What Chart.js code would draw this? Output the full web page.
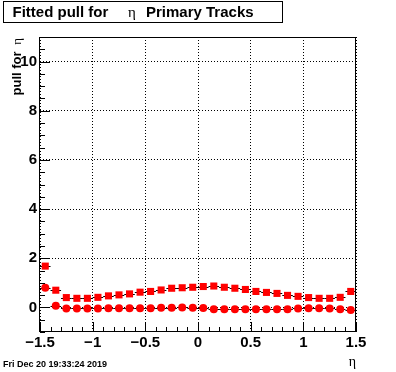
<!DOCTYPE html>
<html>
<head>
<meta charset="utf-8">
<script src="https://cdn.jsdelivr.net/npm/chart.js@4.4.1/dist/chart.umd.min.js"></script>
<style>
  html, body { margin: 0; padding: 0; background: #fff; }
  canvas { display: block; }
</style>
</head>
<body>
<canvas id="pull" width="396" height="372" style="width:396px;height:372px"></canvas>
<script>
// bin centres in eta (bin width 0.1)
const etaBins = [-1.45, -1.35, -1.25, -1.15, -1.05, -0.95, -0.85, -0.75, -0.65, -0.55,
                 -0.45, -0.35, -0.25, -0.15, -0.05, 0.05, 0.15, 0.25, 0.35, 0.45,
                 0.55, 0.65, 0.75, 0.85, 0.95, 1.05, 1.15, 1.25, 1.35, 1.45];
// fitted pull, square markers
const pullSquares = [1.68, 0.70, 0.40, 0.37, 0.37, 0.41, 0.47, 0.51, 0.55, 0.62,
                     0.65, 0.71, 0.78, 0.80, 0.82, 0.85, 0.87, 0.82, 0.78, 0.73,
                     0.65, 0.61, 0.57, 0.49, 0.45, 0.40, 0.37, 0.37, 0.41, 0.65];
// fitted pull, round markers
const pullCircles = [0.80, 0.07, -0.04, -0.04, -0.04, -0.04, -0.03, -0.03, -0.03, -0.03,
                     -0.03, -0.01, -0.01, 0.00, -0.01, -0.02, -0.07, -0.07, -0.07, -0.07,
                     -0.07, -0.07, -0.07, -0.07, -0.04, -0.03, -0.03, -0.04, -0.07, -0.11];
const xTicks = [-1.5, -1, -0.5, 0, 0.5, 1, 1.5];
const xTickLabels = ["\u22121.5", "\u22121", "\u22120.5", "0", "0.5", "1", "1.5"];
const yTicks = [0, 2, 4, 6, 8, 10];
const yTickLabels = ["0", "2", "4", "6", "8", "10"];
const binHalf = 0.05;

const toPoints = (ys) => etaBins.map((x, i) => ({ x: x, y: ys[i] }));
const sans = "'Liberation Sans', Arial, sans-serif";
const serif = "'Liberation Serif', 'DejaVu Serif', serif";

// ROOT style frame, inward ticks, error bars and texts
const rootLook = {
  id: "rootLook",
  beforeDraw(chart) {
    const c = chart.ctx;
    c.save();
    c.fillStyle = "#fff";
    c.fillRect(0, 0, chart.width, chart.height);
    c.restore();
  },
  beforeDatasetsDraw(chart) {
    const c = chart.ctx, xs = chart.scales.x, ys = chart.scales.y;
    c.save();
    c.strokeStyle = "#000";
    c.lineWidth = 1;
    chart.data.datasets.forEach((ds) => {
      ds.data.forEach((p) => {
        const y = Math.round(ys.getPixelForValue(p.y)) + 0.5;
        c.beginPath();
        c.moveTo(xs.getPixelForValue(p.x - binHalf), y);
        c.lineTo(xs.getPixelForValue(p.x + binHalf), y);
        c.stroke();
      });
    });
    c.restore();
  },
  afterDraw(chart) {
    const c = chart.ctx, a = chart.chartArea, xs = chart.scales.x, ys = chart.scales.y;
    c.save();
    c.strokeStyle = "#000";
    c.fillStyle = "#000";
    c.lineWidth = 1;
    c.strokeRect(Math.round(a.left) - 0.5, Math.round(a.top) + 0.5,
                 Math.round(a.right - a.left), Math.round(a.bottom - a.top) - 1);

    // x ticks: major 0.5, minor 0.1
    c.beginPath();
    for (let k = -15; k <= 15; k++) {
      const px = Math.round(xs.getPixelForValue(k / 10)) + 0.5;
      const len = k % 5 === 0 ? 10 : 5;
      c.moveTo(px, a.bottom);
      c.lineTo(px, a.bottom - len);
    }
    // y ticks: major 2, minor 0.5
    for (let k = -2; k <= 22; k++) {
      const py = Math.round(ys.getPixelForValue(k / 2)) + 0.5;
      const len = k % 4 === 0 ? 10 : 5;
      c.moveTo(a.left, py);
      c.lineTo(a.left + len, py);
    }
    c.stroke();

    // title box
    c.strokeRect(3.5, 1.5, 279, 21);
    c.textBaseline = "alphabetic";
    c.font = "bold 15px " + sans;
    c.fillText("Fitted pull for", 12.5, 17);
    c.font = "15px " + serif;
    c.fillText("\u03b7", 128, 17);
    c.font = "bold 15px " + sans;
    c.fillText("Primary Tracks", 146, 17);

    // y axis title, right aligned to top of axis
    c.save();
    c.translate(21, 38);
    c.rotate(-Math.PI / 2);
    c.font = "13px " + serif;
    const wEta = c.measureText("\u03b7").width;
    c.textAlign = "right";
    c.fillText("\u03b7", 0, 0);
    c.font = "bold 13px " + sans;
    c.fillText("pull for ", -wEta - 3, 0);
    c.restore();

    // x axis title
    c.font = "14px " + serif;
    c.textAlign = "right";
    c.fillText("\u03b7", 356, 366);

    // date stamp
    c.font = "bold 9px " + sans;
    c.textAlign = "left";
    c.fillText("Fri Dec 20 19:33:24 2019", 3, 367);
    c.restore();
  }
};

const tickFont = { family: sans, size: 15, weight: "bold" };

new Chart(document.getElementById("pull").getContext("2d"), {
  type: "scatter",
  data: {
    datasets: [
      {
        label: "squares",
        data: toPoints(pullSquares),
        pointStyle: "rect",
        pointRadius: 5,
        backgroundColor: "#ff0000",
        borderColor: "#ff0000",
        borderWidth: 0,
      },
      {
        label: "circles",
        data: toPoints(pullCircles),
        pointStyle: "circle",
        pointRadius: 4,
        backgroundColor: "#ff0000",
        borderColor: "#ff0000",
        borderWidth: 0,
      },
    ],
  },
  options: {
    responsive: false,
    animation: false,
    devicePixelRatio: 1,
    layout: { padding: { top: 37, right: 40, left: 0, bottom: 0 } },
    plugins: {
      legend: { display: false },
      title: { display: false },
      tooltip: { enabled: false },
    },
    scales: {
      x: {
        type: "linear",
        min: -1.5,
        max: 1.5,
        afterBuildTicks: (s) => { s.ticks = xTicks.map((v) => ({ value: v })); },
        afterFit: (s) => { s.height = 40; },
        grid: { color: "#000", drawTicks: false, lineWidth: 1 },
        border: { display: false, dash: [1, 2] },
        ticks: {
          padding: 2,
          color: "#000",
          font: tickFont,
          maxRotation: 0,
          autoSkip: false,
          callback: (v, i) => xTickLabels[i],
        },
      },
      y: {
        type: "linear",
        min: -1,
        max: 11,
        afterBuildTicks: (s) => { s.ticks = yTicks.map((v) => ({ value: v })); },
        afterFit: (s) => { s.width = 40; },
        grid: { color: "#000", drawTicks: false, lineWidth: 1 },
        border: { display: false, dash: [1, 2] },
        ticks: {
          padding: 3,
          color: "#000",
          font: tickFont,
          autoSkip: false,
          callback: (v, i) => yTickLabels[i],
        },
      },
    },
  },
  plugins: [rootLook],
});
</script>
</body>
</html>
